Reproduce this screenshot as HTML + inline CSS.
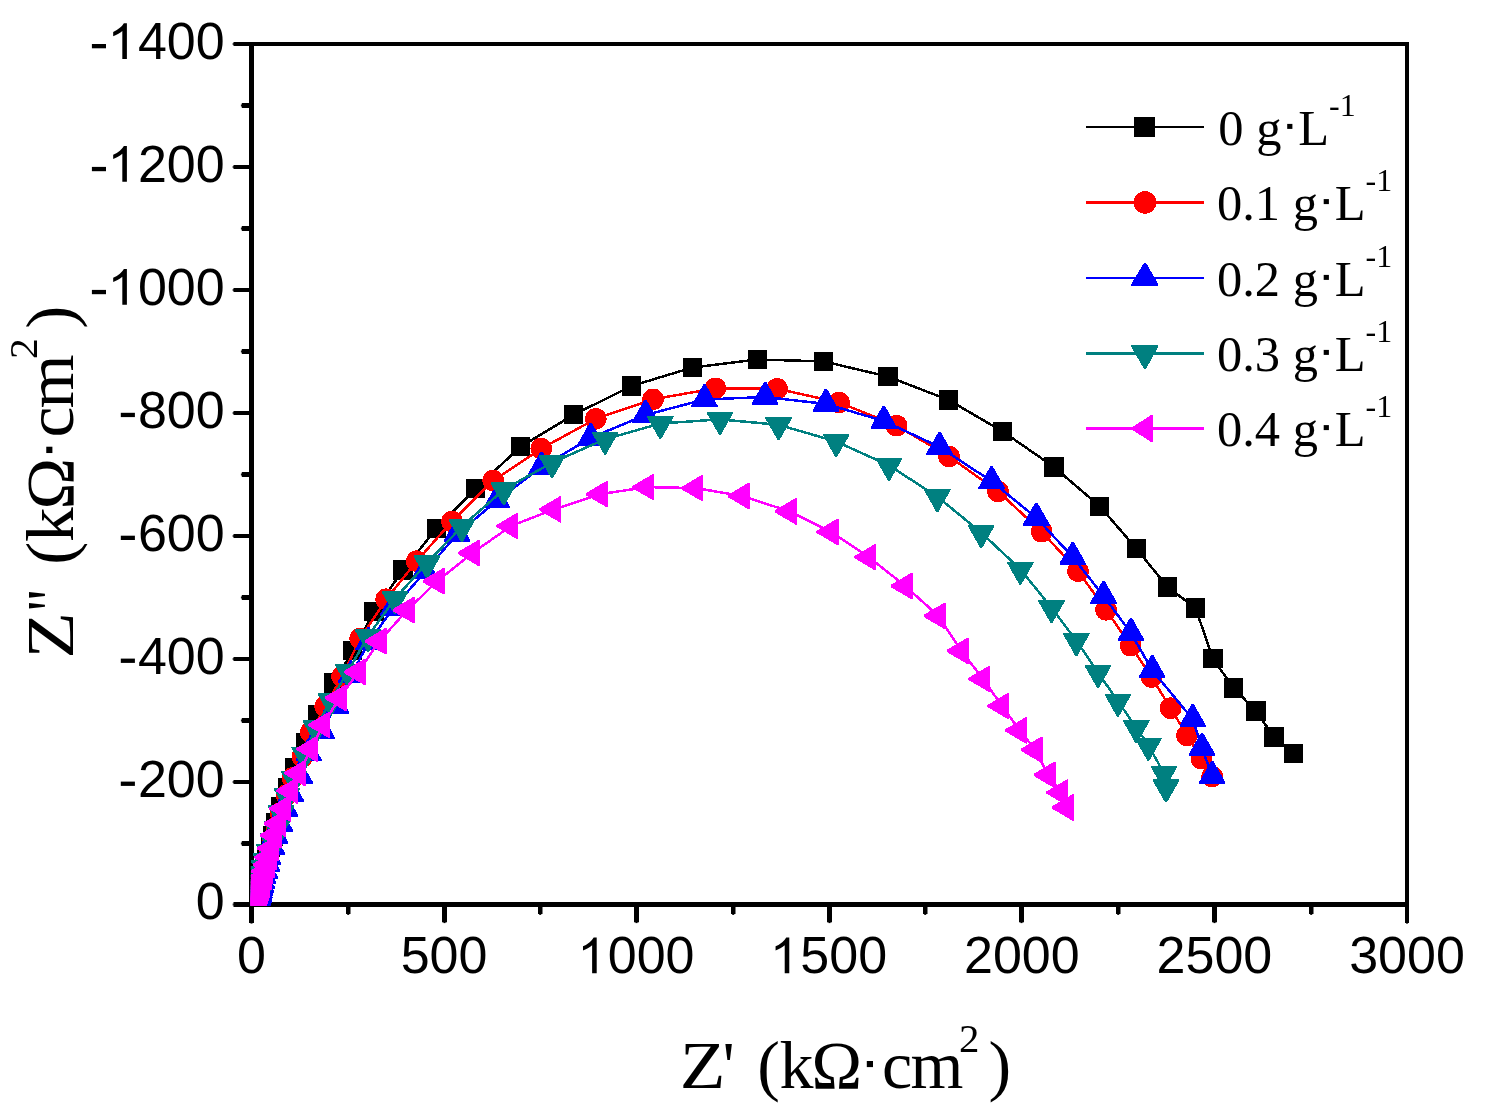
<!DOCTYPE html>
<html><head><meta charset="utf-8"><title>Nyquist plot</title>
<style>
html,body{margin:0;padding:0;background:#fff;}
body{width:1485px;height:1105px;overflow:hidden;font-family:"Liberation Sans",sans-serif;}
svg{display:block;will-change:transform;}
</style></head><body>
<svg width="1485" height="1105" viewBox="0 0 1485 1105">
<defs><clipPath id="pc"><rect x="250.8" y="40" width="1160" height="865.8"/></clipPath></defs>
<rect width="1485" height="1105" fill="#fff"/>
<g fill="#000">
<rect x="249" y="42" width="5" height="881" />
<rect x="1405" y="42" width="4" height="881" />
<rect x="233.5" y="42" width="1175.5" height="4" />
<rect x="233.5" y="902" width="1175.5" height="5" />
<rect x="232.7" y="43" width="1" height="2"/><rect x="232.7" y="903.5" width="1" height="2"/><rect x="250.5" y="922.8" width="2" height="0.8"/><rect x="1406" y="922.8" width="2" height="0.8"/>
<rect x="241.8" y="841" width="9" height="5"/><rect x="240.9" y="842.5" width="1" height="2"/>
<rect x="233.5" y="780" width="17" height="4"/><rect x="232.7" y="781" width="1" height="2"/>
<rect x="241.8" y="718" width="9" height="5"/><rect x="240.9" y="719.5" width="1" height="2"/>
<rect x="233.5" y="657" width="17" height="4"/><rect x="232.7" y="658" width="1" height="2"/>
<rect x="241.8" y="595" width="9" height="5"/><rect x="240.9" y="596.5" width="1" height="2"/>
<rect x="233.5" y="534" width="17" height="4"/><rect x="232.7" y="535" width="1" height="2"/>
<rect x="241.8" y="472" width="9" height="5"/><rect x="240.9" y="473.5" width="1" height="2"/>
<rect x="233.5" y="411" width="17" height="4"/><rect x="232.7" y="412" width="1" height="2"/>
<rect x="241.8" y="349" width="9" height="5"/><rect x="240.9" y="350.5" width="1" height="2"/>
<rect x="233.5" y="288" width="17" height="4"/><rect x="232.7" y="289" width="1" height="2"/>
<rect x="241.8" y="226" width="9" height="5"/><rect x="240.9" y="227.5" width="1" height="2"/>
<rect x="233.5" y="165" width="17" height="4"/><rect x="232.7" y="166" width="1" height="2"/>
<rect x="241.8" y="103" width="9" height="5"/><rect x="240.9" y="104.5" width="1" height="2"/>
<rect x="346" y="905" width="4.5" height="9"/><rect x="347.2" y="913.8" width="2" height="1.1"/>
<rect x="442" y="905" width="5" height="17.3"/><rect x="443.5" y="922" width="2" height="1.1"/>
<rect x="538" y="905" width="4.5" height="9"/><rect x="539.2" y="913.8" width="2" height="1.1"/>
<rect x="634" y="905" width="5" height="17.3"/><rect x="635.5" y="922" width="2" height="1.1"/>
<rect x="731" y="905" width="4.5" height="9"/><rect x="732.2" y="913.8" width="2" height="1.1"/>
<rect x="827" y="905" width="5" height="17.3"/><rect x="828.5" y="922" width="2" height="1.1"/>
<rect x="923" y="905" width="4.5" height="9"/><rect x="924.2" y="913.8" width="2" height="1.1"/>
<rect x="1019" y="905" width="5" height="17.3"/><rect x="1020.5" y="922" width="2" height="1.1"/>
<rect x="1116" y="905" width="4.5" height="9"/><rect x="1117.2" y="913.8" width="2" height="1.1"/>
<rect x="1212" y="905" width="5" height="17.3"/><rect x="1213.5" y="922" width="2" height="1.1"/>
<rect x="1309" y="905" width="4.5" height="9"/><rect x="1310.2" y="913.8" width="2" height="1.1"/>
</g>
<g font-family="Liberation Sans, sans-serif" font-size="52" fill="#000"><text x="195.78" y="919.4">0</text>
<text x="137.94" y="796.5">200</text>
<rect x="120.8" y="781.6" width="14.1" height="4.3"/>
<text x="137.94" y="673.5">400</text>
<rect x="120.8" y="658.6" width="14.1" height="4.3"/>
<text x="137.94" y="550.6">600</text>
<rect x="120.8" y="535.7" width="14.1" height="4.3"/>
<text x="137.94" y="427.7">800</text>
<rect x="120.8" y="412.8" width="14.1" height="4.3"/>
<path transform="translate(107.52,304.8) scale(0.02539,-0.02440)" d="M763 0H583V1147Q518 1085 412.5 1023T223 930V1104Q373 1174.5 485.5 1275T644 1466H763Z"/>
<text x="137.94" y="304.8">000</text>
<rect x="91.9" y="289.9" width="14.1" height="4.3"/>
<path transform="translate(107.52,181.8) scale(0.02539,-0.02440)" d="M763 0H583V1147Q518 1085 412.5 1023T223 930V1104Q373 1174.5 485.5 1275T644 1466H763Z"/>
<text x="137.94" y="181.8">200</text>
<rect x="91.9" y="166.9" width="14.1" height="4.3"/>
<path transform="translate(107.52,58.9) scale(0.02539,-0.02440)" d="M763 0H583V1147Q518 1085 412.5 1023T223 930V1104Q373 1174.5 485.5 1275T644 1466H763Z"/>
<text x="137.94" y="58.9">400</text>
<rect x="91.9" y="44.0" width="14.1" height="4.3"/>
<text x="237.04" y="973.3">0</text>
<text x="400.70" y="973.3">500</text>
<path transform="translate(577.33,973.3) scale(0.02539,-0.02440)" d="M763 0H583V1147Q518 1085 412.5 1023T223 930V1104Q373 1174.5 485.5 1275T644 1466H763Z"/>
<text x="607.75" y="973.3">000</text>
<path transform="translate(769.91,973.3) scale(0.02539,-0.02440)" d="M763 0H583V1147Q518 1085 412.5 1023T223 930V1104Q373 1174.5 485.5 1275T644 1466H763Z"/>
<text x="800.33" y="973.3">500</text>
<text x="963.99" y="973.3">2000</text>
<text x="1156.58" y="973.3">2500</text>
<text x="1349.16" y="973.3">3000</text></g>
<g clip-path="url(#pc)" shape-rendering="crispEdges">
<g fill="#000000" stroke="none">
<path d="M1293.6 753.5L1274.0 737.0L1255.9 711.0L1233.5 687.9L1212.9 658.7L1195.5 607.9L1167.4 587.0L1136.5 548.6L1099.8 506.4L1054.0 467.0L1002.7 431.5L948.7 400.0L887.9 376.6L823.6 361.4L757.6 359.5L692.5 367.5L631.8 385.9L573.6 414.8L520.7 446.6L475.6 488.4L436.6 528.5L403.0 570.0L374.0 611.8L352.8 650.7L333.8 683.0L317.9 714.8L305.8 743.0L294.8 767.8L287.8 787.7L280.8 806.7L275.8 823.0L273.0 836.0L270.2 847.4L266.8 858.4L264.8 865.8L263.2 872.0L261.8 877.2L260.6 881.5L259.6 885.2L258.8 888.3L258.1 890.9L257.5 893.1L257.1 894.9L256.7 896.4L256.3 897.7L256.0 898.8L255.8 899.7L255.6 900.5L255.4 901.1L255.3 901.7L255.1 902.1L255.0 902.5L254.9 902.8L254.9 903.1L254.8 903.3L254.8 903.5L254.7 903.7" fill="none" stroke="#000000" stroke-width="2.5" stroke-linejoin="round"/>
<rect x="1284.0" y="743.9" width="19.2" height="19.2"/>
<rect x="1264.4" y="727.4" width="19.2" height="19.2"/>
<rect x="1246.3" y="701.4" width="19.2" height="19.2"/>
<rect x="1223.9" y="678.3" width="19.2" height="19.2"/>
<rect x="1203.3" y="649.1" width="19.2" height="19.2"/>
<rect x="1185.9" y="598.3" width="19.2" height="19.2"/>
<rect x="1157.8" y="577.4" width="19.2" height="19.2"/>
<rect x="1126.9" y="539.0" width="19.2" height="19.2"/>
<rect x="1090.2" y="496.8" width="19.2" height="19.2"/>
<rect x="1044.4" y="457.4" width="19.2" height="19.2"/>
<rect x="993.1" y="421.9" width="19.2" height="19.2"/>
<rect x="939.1" y="390.4" width="19.2" height="19.2"/>
<rect x="878.3" y="367.0" width="19.2" height="19.2"/>
<rect x="814.0" y="351.8" width="19.2" height="19.2"/>
<rect x="748.0" y="349.9" width="19.2" height="19.2"/>
<rect x="682.9" y="357.9" width="19.2" height="19.2"/>
<rect x="622.2" y="376.3" width="19.2" height="19.2"/>
<rect x="564.0" y="405.2" width="19.2" height="19.2"/>
<rect x="511.1" y="437.0" width="19.2" height="19.2"/>
<rect x="466.0" y="478.8" width="19.2" height="19.2"/>
<rect x="427.0" y="518.9" width="19.2" height="19.2"/>
<rect x="393.4" y="560.4" width="19.2" height="19.2"/>
<rect x="364.4" y="602.2" width="19.2" height="19.2"/>
<rect x="343.2" y="641.1" width="19.2" height="19.2"/>
<rect x="324.2" y="673.4" width="19.2" height="19.2"/>
<rect x="308.3" y="705.2" width="19.2" height="19.2"/>
<rect x="296.2" y="733.4" width="19.2" height="19.2"/>
<rect x="285.2" y="758.2" width="19.2" height="19.2"/>
<rect x="278.2" y="778.1" width="19.2" height="19.2"/>
<rect x="271.2" y="797.1" width="19.2" height="19.2"/>
<rect x="266.2" y="813.4" width="19.2" height="19.2"/>
<rect x="263.4" y="826.4" width="19.2" height="19.2"/>
<rect x="260.6" y="837.8" width="19.2" height="19.2"/>
<rect x="257.2" y="848.8" width="19.2" height="19.2"/>
<rect x="255.2" y="856.2" width="19.2" height="19.2"/>
<rect x="253.6" y="862.4" width="19.2" height="19.2"/>
<rect x="252.2" y="867.6" width="19.2" height="19.2"/>
<rect x="251.0" y="871.9" width="19.2" height="19.2"/>
<rect x="250.0" y="875.6" width="19.2" height="19.2"/>
<rect x="249.2" y="878.7" width="19.2" height="19.2"/>
<rect x="248.5" y="881.3" width="19.2" height="19.2"/>
<rect x="247.9" y="883.5" width="19.2" height="19.2"/>
<rect x="247.5" y="885.3" width="19.2" height="19.2"/>
<rect x="247.1" y="886.8" width="19.2" height="19.2"/>
<rect x="246.7" y="888.1" width="19.2" height="19.2"/>
<rect x="246.4" y="889.2" width="19.2" height="19.2"/>
<rect x="246.2" y="890.1" width="19.2" height="19.2"/>
<rect x="246.0" y="890.9" width="19.2" height="19.2"/>
<rect x="245.8" y="891.5" width="19.2" height="19.2"/>
<rect x="245.7" y="892.1" width="19.2" height="19.2"/>
<rect x="245.5" y="892.5" width="19.2" height="19.2"/>
<rect x="245.4" y="892.9" width="19.2" height="19.2"/>
<rect x="245.3" y="893.2" width="19.2" height="19.2"/>
<rect x="245.3" y="893.5" width="19.2" height="19.2"/>
<rect x="245.2" y="893.7" width="19.2" height="19.2"/>
<rect x="245.2" y="893.9" width="19.2" height="19.2"/>
<rect x="245.1" y="894.1" width="19.2" height="19.2"/>
</g>
<g fill="#ff0000" stroke="none">
<path d="M1212.2 776.5L1201.3 758.7L1187.0 735.4L1170.6 708.2L1151.4 677.0L1130.6 645.6L1106.0 609.8L1078.0 571.2L1041.7 531.7L998.0 491.4L949.0 456.4L896.5 425.6L839.0 402.5L777.1 388.8L715.4 388.3L653.0 399.3L595.8 418.8L541.3 448.6L493.2 480.6L452.0 521.4L416.7 561.2L386.2 599.2L360.2 638.5L342.1 676.5L325.2 706.4L310.7 732.3L302.3 757.0L292.5 778.0L286.4 795.0L280.6 813.0L276.4 827.4L273.0 839.7L270.1 850.1L267.7 858.8L265.7 866.1L264.0 872.2L262.5 877.4L261.3 881.7L260.3 885.4L259.5 888.4L258.7 891.0L258.1 893.2L257.6 895.0L257.2 896.5L256.9 897.8L256.6 898.9L256.3 899.8L256.1 900.5L255.9 901.2L255.8 901.7L255.7 902.1L255.6 902.5L255.5 902.8L255.4 903.1L255.3 903.3L255.3 903.5L255.2 903.7" fill="none" stroke="#ff0000" stroke-width="2.5" stroke-linejoin="round"/>
<circle cx="1212.2" cy="776.5" r="10.8"/>
<circle cx="1201.3" cy="758.7" r="10.8"/>
<circle cx="1187.0" cy="735.4" r="10.8"/>
<circle cx="1170.6" cy="708.2" r="10.8"/>
<circle cx="1151.4" cy="677.0" r="10.8"/>
<circle cx="1130.6" cy="645.6" r="10.8"/>
<circle cx="1106.0" cy="609.8" r="10.8"/>
<circle cx="1078.0" cy="571.2" r="10.8"/>
<circle cx="1041.7" cy="531.7" r="10.8"/>
<circle cx="998.0" cy="491.4" r="10.8"/>
<circle cx="949.0" cy="456.4" r="10.8"/>
<circle cx="896.5" cy="425.6" r="10.8"/>
<circle cx="839.0" cy="402.5" r="10.8"/>
<circle cx="777.1" cy="388.8" r="10.8"/>
<circle cx="715.4" cy="388.3" r="10.8"/>
<circle cx="653.0" cy="399.3" r="10.8"/>
<circle cx="595.8" cy="418.8" r="10.8"/>
<circle cx="541.3" cy="448.6" r="10.8"/>
<circle cx="493.2" cy="480.6" r="10.8"/>
<circle cx="452.0" cy="521.4" r="10.8"/>
<circle cx="416.7" cy="561.2" r="10.8"/>
<circle cx="386.2" cy="599.2" r="10.8"/>
<circle cx="360.2" cy="638.5" r="10.8"/>
<circle cx="342.1" cy="676.5" r="10.8"/>
<circle cx="325.2" cy="706.4" r="10.8"/>
<circle cx="310.7" cy="732.3" r="10.8"/>
<circle cx="302.3" cy="757.0" r="10.8"/>
<circle cx="292.5" cy="778.0" r="10.8"/>
<circle cx="286.4" cy="795.0" r="10.8"/>
<circle cx="280.6" cy="813.0" r="10.8"/>
<circle cx="276.4" cy="827.4" r="10.8"/>
<circle cx="273.0" cy="839.7" r="10.8"/>
<circle cx="270.1" cy="850.1" r="10.8"/>
<circle cx="267.7" cy="858.8" r="10.8"/>
<circle cx="265.7" cy="866.1" r="10.8"/>
<circle cx="264.0" cy="872.2" r="10.8"/>
<circle cx="262.5" cy="877.4" r="10.8"/>
<circle cx="261.3" cy="881.7" r="10.8"/>
<circle cx="260.3" cy="885.4" r="10.8"/>
<circle cx="259.5" cy="888.4" r="10.8"/>
<circle cx="258.7" cy="891.0" r="10.8"/>
<circle cx="258.1" cy="893.2" r="10.8"/>
<circle cx="257.6" cy="895.0" r="10.8"/>
<circle cx="257.2" cy="896.5" r="10.8"/>
<circle cx="256.9" cy="897.8" r="10.8"/>
<circle cx="256.6" cy="898.9" r="10.8"/>
<circle cx="256.3" cy="899.8" r="10.8"/>
<circle cx="256.1" cy="900.5" r="10.8"/>
<circle cx="255.9" cy="901.2" r="10.8"/>
<circle cx="255.8" cy="901.7" r="10.8"/>
<circle cx="255.7" cy="902.1" r="10.8"/>
<circle cx="255.6" cy="902.5" r="10.8"/>
<circle cx="255.5" cy="902.8" r="10.8"/>
<circle cx="255.4" cy="903.1" r="10.8"/>
<circle cx="255.3" cy="903.3" r="10.8"/>
<circle cx="255.3" cy="903.5" r="10.8"/>
<circle cx="255.2" cy="903.7" r="10.8"/>
</g>
<g fill="#0000ff" stroke="none">
<path d="M1212.2 776.1L1202.0 748.0L1192.7 719.2L1152.2 670.2L1131.0 633.1L1103.6 596.0L1072.7 557.0L1036.3 517.8L991.6 481.3L939.6 447.0L883.8 421.0L825.9 403.9L765.1 397.0L704.5 399.5L645.4 415.0L590.7 437.9L541.5 467.0L497.0 500.6L457.2 534.0L425.0 571.7L393.0 608.5L368.5 642.6L351.0 675.5L335.8 705.8L321.7 731.0L308.7 753.6L299.8 776.0L290.8 794.0L285.0 808.8L279.9 823.9L275.2 836.2L271.9 846.9L268.2 856.9L267.0 864.0L264.9 871.0L263.0 876.2L261.8 881.1L260.9 885.0L260.1 888.1L259.5 890.7L258.9 892.9L258.4 894.8L258.0 896.3L257.7 897.6L257.4 898.7L257.2 899.7L257.0 900.4L256.9 901.1L256.7 901.6L256.6 902.1L256.5 902.5L256.4 902.8L256.4 903.1L256.3 903.3L256.3 903.5L256.2 903.7" fill="none" stroke="#0000ff" stroke-width="2.5" stroke-linejoin="round"/>
<path d="M1211.2 760.8h2L1225.4 782.3v1.5H1199.0v-1.5Z"/>
<path d="M1201.0 732.7h2L1215.2 754.2v1.5H1188.8v-1.5Z"/>
<path d="M1191.7 703.9h2L1205.9 725.4v1.5H1179.5v-1.5Z"/>
<path d="M1151.2 654.9h2L1165.4 676.4v1.5H1139.0v-1.5Z"/>
<path d="M1130.0 617.8h2L1144.2 639.3v1.5H1117.8v-1.5Z"/>
<path d="M1102.6 580.7h2L1116.8 602.2v1.5H1090.4v-1.5Z"/>
<path d="M1071.7 541.7h2L1085.9 563.2v1.5H1059.5v-1.5Z"/>
<path d="M1035.3 502.5h2L1049.5 524.0v1.5H1023.1v-1.5Z"/>
<path d="M990.6 466.0h2L1004.8 487.5v1.5H978.4v-1.5Z"/>
<path d="M938.6 431.7h2L952.8 453.2v1.5H926.4v-1.5Z"/>
<path d="M882.8 405.7h2L897.0 427.2v1.5H870.6v-1.5Z"/>
<path d="M824.9 388.6h2L839.1 410.1v1.5H812.7v-1.5Z"/>
<path d="M764.1 381.7h2L778.3 403.2v1.5H751.9v-1.5Z"/>
<path d="M703.5 384.2h2L717.7 405.7v1.5H691.3v-1.5Z"/>
<path d="M644.4 399.7h2L658.6 421.2v1.5H632.2v-1.5Z"/>
<path d="M589.7 422.6h2L603.9 444.1v1.5H577.5v-1.5Z"/>
<path d="M540.5 451.7h2L554.7 473.2v1.5H528.3v-1.5Z"/>
<path d="M496.0 485.3h2L510.2 506.8v1.5H483.8v-1.5Z"/>
<path d="M456.2 518.7h2L470.4 540.2v1.5H444.0v-1.5Z"/>
<path d="M424.0 556.4h2L438.2 577.9v1.5H411.8v-1.5Z"/>
<path d="M392.0 593.2h2L406.2 614.7v1.5H379.8v-1.5Z"/>
<path d="M367.5 627.3h2L381.7 648.8v1.5H355.3v-1.5Z"/>
<path d="M350.0 660.2h2L364.2 681.7v1.5H337.8v-1.5Z"/>
<path d="M334.8 690.5h2L349.0 712.0v1.5H322.6v-1.5Z"/>
<path d="M320.7 715.7h2L334.9 737.2v1.5H308.5v-1.5Z"/>
<path d="M307.7 738.3h2L321.9 759.8v1.5H295.5v-1.5Z"/>
<path d="M298.8 760.7h2L313.0 782.2v1.5H286.6v-1.5Z"/>
<path d="M289.8 778.7h2L304.0 800.2v1.5H277.6v-1.5Z"/>
<path d="M284.0 793.5h2L298.2 815.0v1.5H271.8v-1.5Z"/>
<path d="M278.9 808.6h2L293.1 830.1v1.5H266.7v-1.5Z"/>
<path d="M274.2 820.9h2L288.4 842.4v1.5H262.0v-1.5Z"/>
<path d="M270.9 831.6h2L285.1 853.1v1.5H258.7v-1.5Z"/>
<path d="M267.2 841.6h2L281.4 863.1v1.5H255.0v-1.5Z"/>
<path d="M266.0 848.7h2L280.2 870.2v1.5H253.8v-1.5Z"/>
<path d="M263.9 855.7h2L278.1 877.2v1.5H251.7v-1.5Z"/>
<path d="M262.0 860.9h2L276.2 882.4v1.5H249.8v-1.5Z"/>
<path d="M260.8 865.8h2L275.0 887.3v1.5H248.6v-1.5Z"/>
<path d="M259.9 869.7h2L274.1 891.2v1.5H247.7v-1.5Z"/>
<path d="M259.1 872.8h2L273.3 894.3v1.5H246.9v-1.5Z"/>
<path d="M258.5 875.4h2L272.7 896.9v1.5H246.3v-1.5Z"/>
<path d="M257.9 877.6h2L272.1 899.1v1.5H245.7v-1.5Z"/>
<path d="M257.4 879.5h2L271.6 901.0v1.5H245.2v-1.5Z"/>
<path d="M257.0 881.0h2L271.2 902.5v1.5H244.8v-1.5Z"/>
<path d="M256.7 882.3h2L270.9 903.8v1.5H244.5v-1.5Z"/>
<path d="M256.4 883.4h2L270.6 904.9v1.5H244.2v-1.5Z"/>
<path d="M256.2 884.3h2L270.4 905.8v1.5H244.0v-1.5Z"/>
<path d="M256.0 885.1h2L270.2 906.6v1.5H243.8v-1.5Z"/>
<path d="M255.9 885.8h2L270.1 907.3v1.5H243.7v-1.5Z"/>
<path d="M255.7 886.3h2L269.9 907.8v1.5H243.5v-1.5Z"/>
<path d="M255.6 886.8h2L269.8 908.3v1.5H243.4v-1.5Z"/>
<path d="M255.5 887.1h2L269.7 908.6v1.5H243.3v-1.5Z"/>
<path d="M255.4 887.5h2L269.6 909.0v1.5H243.2v-1.5Z"/>
<path d="M255.4 887.7h2L269.6 909.2v1.5H243.2v-1.5Z"/>
<path d="M255.3 888.0h2L269.5 909.5v1.5H243.1v-1.5Z"/>
<path d="M255.3 888.2h2L269.5 909.7v1.5H243.1v-1.5Z"/>
<path d="M255.2 888.3h2L269.4 909.8v1.5H243.0v-1.5Z"/>
</g>
<g fill="#008080" stroke="none">
<path d="M1166.0 787.0L1164.0 773.3L1148.4 745.4L1136.3 727.6L1117.9 701.2L1098.0 672.5L1076.3 640.6L1051.5 607.7L1020.3 569.2L981.2 532.6L937.3 496.6L888.9 465.4L836.2 441.5L778.6 424.8L719.9 419.4L660.3 423.5L605.1 439.2L552.0 462.7L503.8 489.6L461.8 526.6L427.0 563.0L395.0 598.6L367.9 636.3L348.0 671.4L330.8 700.3L316.0 728.0L304.6 754.2L294.0 778.3L287.0 795.5L281.2 813.0L276.8 828.3L272.7 840.5L269.4 851.5L265.7 860.7L264.1 867.7L262.7 873.6L261.5 878.5L260.6 882.7L259.8 886.2L259.1 889.1L258.5 891.6L258.0 893.6L257.6 895.4L257.3 896.8L257.0 898.1L256.8 899.1L256.6 900.0L256.4 900.7L256.2 901.3L256.1 901.8L256.0 902.2L255.9 902.6L255.9 902.9L255.8 903.2L255.8 903.4L255.7 903.6L255.7 903.7" fill="none" stroke="#008080" stroke-width="2.5" stroke-linejoin="round"/>
<path d="M1165.0 802.3h2L1179.2 780.8v-1.5H1152.8v1.5Z"/>
<path d="M1163.0 788.6h2L1177.2 767.1v-1.5H1150.8v1.5Z"/>
<path d="M1147.4 760.7h2L1161.6 739.2v-1.5H1135.2v1.5Z"/>
<path d="M1135.3 742.9h2L1149.5 721.4v-1.5H1123.1v1.5Z"/>
<path d="M1116.9 716.5h2L1131.1 695.0v-1.5H1104.7v1.5Z"/>
<path d="M1097.0 687.8h2L1111.2 666.3v-1.5H1084.8v1.5Z"/>
<path d="M1075.3 655.9h2L1089.5 634.4v-1.5H1063.1v1.5Z"/>
<path d="M1050.5 623.0h2L1064.7 601.5v-1.5H1038.3v1.5Z"/>
<path d="M1019.3 584.5h2L1033.5 563.0v-1.5H1007.1v1.5Z"/>
<path d="M980.2 547.9h2L994.4 526.4v-1.5H968.0v1.5Z"/>
<path d="M936.3 511.9h2L950.5 490.4v-1.5H924.1v1.5Z"/>
<path d="M887.9 480.7h2L902.1 459.2v-1.5H875.7v1.5Z"/>
<path d="M835.2 456.8h2L849.4 435.3v-1.5H823.0v1.5Z"/>
<path d="M777.6 440.1h2L791.8 418.6v-1.5H765.4v1.5Z"/>
<path d="M718.9 434.7h2L733.1 413.2v-1.5H706.7v1.5Z"/>
<path d="M659.3 438.8h2L673.5 417.3v-1.5H647.1v1.5Z"/>
<path d="M604.1 454.5h2L618.3 433.0v-1.5H591.9v1.5Z"/>
<path d="M551.0 478.0h2L565.2 456.5v-1.5H538.8v1.5Z"/>
<path d="M502.8 504.9h2L517.0 483.4v-1.5H490.6v1.5Z"/>
<path d="M460.8 541.9h2L475.0 520.4v-1.5H448.6v1.5Z"/>
<path d="M426.0 578.3h2L440.2 556.8v-1.5H413.8v1.5Z"/>
<path d="M394.0 613.9h2L408.2 592.4v-1.5H381.8v1.5Z"/>
<path d="M366.9 651.6h2L381.1 630.1v-1.5H354.7v1.5Z"/>
<path d="M347.0 686.7h2L361.2 665.2v-1.5H334.8v1.5Z"/>
<path d="M329.8 715.6h2L344.0 694.1v-1.5H317.6v1.5Z"/>
<path d="M315.0 743.3h2L329.2 721.8v-1.5H302.8v1.5Z"/>
<path d="M303.6 769.5h2L317.8 748.0v-1.5H291.4v1.5Z"/>
<path d="M293.0 793.6h2L307.2 772.1v-1.5H280.8v1.5Z"/>
<path d="M286.0 810.8h2L300.2 789.3v-1.5H273.8v1.5Z"/>
<path d="M280.2 828.3h2L294.4 806.8v-1.5H268.0v1.5Z"/>
<path d="M275.8 843.6h2L290.0 822.1v-1.5H263.6v1.5Z"/>
<path d="M271.7 855.8h2L285.9 834.3v-1.5H259.5v1.5Z"/>
<path d="M268.4 866.8h2L282.6 845.3v-1.5H256.2v1.5Z"/>
<path d="M264.7 876.0h2L278.9 854.5v-1.5H252.5v1.5Z"/>
<path d="M263.1 883.0h2L277.3 861.5v-1.5H250.9v1.5Z"/>
<path d="M261.7 888.9h2L275.9 867.4v-1.5H249.5v1.5Z"/>
<path d="M260.5 893.9h2L274.7 872.4v-1.5H248.3v1.5Z"/>
<path d="M259.6 898.0h2L273.8 876.5v-1.5H247.4v1.5Z"/>
<path d="M258.8 901.5h2L273.0 880.0v-1.5H246.6v1.5Z"/>
<path d="M258.1 904.4h2L272.3 882.9v-1.5H245.9v1.5Z"/>
<path d="M257.5 906.9h2L271.7 885.4v-1.5H245.3v1.5Z"/>
<path d="M257.0 909.0h2L271.2 887.5v-1.5H244.8v1.5Z"/>
<path d="M256.6 910.7h2L270.8 889.2v-1.5H244.4v1.5Z"/>
<path d="M256.3 912.2h2L270.5 890.7v-1.5H244.1v1.5Z"/>
<path d="M256.0 913.4h2L270.2 891.9v-1.5H243.8v1.5Z"/>
<path d="M255.8 914.4h2L270.0 892.9v-1.5H243.6v1.5Z"/>
<path d="M255.6 915.3h2L269.8 893.8v-1.5H243.4v1.5Z"/>
<path d="M255.4 916.0h2L269.6 894.5v-1.5H243.2v1.5Z"/>
<path d="M255.2 916.6h2L269.4 895.1v-1.5H243.0v1.5Z"/>
<path d="M255.1 917.1h2L269.3 895.6v-1.5H242.9v1.5Z"/>
<path d="M255.0 917.6h2L269.2 896.1v-1.5H242.8v1.5Z"/>
<path d="M254.9 917.9h2L269.1 896.4v-1.5H242.7v1.5Z"/>
<path d="M254.9 918.2h2L269.1 896.7v-1.5H242.7v1.5Z"/>
<path d="M254.8 918.5h2L269.0 897.0v-1.5H242.6v1.5Z"/>
<path d="M254.8 918.7h2L269.0 897.2v-1.5H242.6v1.5Z"/>
<path d="M254.7 918.9h2L268.9 897.4v-1.5H242.5v1.5Z"/>
<path d="M254.7 919.0h2L268.9 897.5v-1.5H242.5v1.5Z"/>
</g>
<g fill="#ff00ff" stroke="none">
<path d="M1066.4 807.5L1060.9 792.5L1048.2 774.9L1035.4 749.8L1019.7 730.4L1002.0 706.0L983.0 678.9L961.3 650.9L938.3 615.9L905.2 586.0L869.0 557.2L831.1 531.9L789.5 511.4L742.3 496.0L695.8 488.1L646.9 487.1L600.5 494.1L554.0 509.3L511.0 526.0L472.5 553.0L437.2 581.2L407.3 610.1L379.2 641.3L358.4 672.0L339.4 697.9L322.9 725.0L311.0 749.0L299.0 773.2L291.0 790.7L284.0 808.4L278.5 823.5L274.7 835.3L271.5 848.3L269.2 857.3L267.2 864.8L265.6 871.2L264.2 876.5L263.1 881.0L262.1 884.8L261.3 887.9L260.6 890.6L260.0 892.8L259.5 894.7L259.1 896.2L258.8 897.6L258.5 898.7L258.3 899.6L258.1 900.4L257.9 901.0L257.7 901.6L257.6 902.1L257.5 902.5L257.4 902.8L257.4 903.1L257.3 903.3L257.3 903.5L257.2 903.6L257.2 903.8" fill="none" stroke="#ff00ff" stroke-width="2.5" stroke-linejoin="round"/>
<path d="M1051.7 806.5v2L1072.3 820.6h1.5V794.4h-1.5Z"/>
<path d="M1046.2 791.5v2L1066.8 805.6h1.5V779.4h-1.5Z"/>
<path d="M1033.5 773.9v2L1054.1 788.0h1.5V761.8h-1.5Z"/>
<path d="M1020.7 748.8v2L1041.3 762.9h1.5V736.6h-1.5Z"/>
<path d="M1005.0 729.4v2L1025.6 743.5h1.5V717.2h-1.5Z"/>
<path d="M987.3 705.0v2L1007.9 719.1h1.5V692.9h-1.5Z"/>
<path d="M968.3 677.9v2L988.9 692.0h1.5V665.8h-1.5Z"/>
<path d="M946.6 649.9v2L967.2 664.0h1.5V637.8h-1.5Z"/>
<path d="M923.6 614.9v2L944.2 629.0h1.5V602.8h-1.5Z"/>
<path d="M890.5 585.0v2L911.1 599.1h1.5V572.9h-1.5Z"/>
<path d="M854.3 556.2v2L874.9 570.4h1.5V544.1h-1.5Z"/>
<path d="M816.4 530.9v2L837.0 545.0h1.5V518.8h-1.5Z"/>
<path d="M774.8 510.4v2L795.4 524.5h1.5V498.2h-1.5Z"/>
<path d="M727.6 495.0v2L748.2 509.1h1.5V482.9h-1.5Z"/>
<path d="M681.1 487.1v2L701.7 501.2h1.5V475.0h-1.5Z"/>
<path d="M632.2 486.1v2L652.8 500.2h1.5V474.0h-1.5Z"/>
<path d="M585.8 493.1v2L606.4 507.2h1.5V481.0h-1.5Z"/>
<path d="M539.3 508.3v2L559.9 522.5h1.5V496.2h-1.5Z"/>
<path d="M496.3 525.0v2L516.9 539.1h1.5V512.9h-1.5Z"/>
<path d="M457.8 552.0v2L478.4 566.1h1.5V539.9h-1.5Z"/>
<path d="M422.5 580.2v2L443.1 594.4h1.5V568.1h-1.5Z"/>
<path d="M392.6 609.1v2L413.2 623.2h1.5V597.0h-1.5Z"/>
<path d="M364.5 640.3v2L385.1 654.4h1.5V628.1h-1.5Z"/>
<path d="M343.7 671.0v2L364.3 685.1h1.5V658.9h-1.5Z"/>
<path d="M324.7 696.9v2L345.3 711.0h1.5V684.8h-1.5Z"/>
<path d="M308.2 724.0v2L328.8 738.1h1.5V711.9h-1.5Z"/>
<path d="M296.3 748.0v2L316.9 762.1h1.5V735.9h-1.5Z"/>
<path d="M284.3 772.2v2L304.9 786.4h1.5V760.1h-1.5Z"/>
<path d="M276.3 789.7v2L296.9 803.9h1.5V777.6h-1.5Z"/>
<path d="M269.3 807.4v2L289.9 821.5h1.5V795.2h-1.5Z"/>
<path d="M263.8 822.5v2L284.4 836.6h1.5V810.4h-1.5Z"/>
<path d="M260.0 834.3v2L280.6 848.4h1.5V822.1h-1.5Z"/>
<path d="M256.8 847.3v2L277.4 861.4h1.5V835.1h-1.5Z"/>
<path d="M254.4 856.3v2L275.0 870.4h1.5V844.1h-1.5Z"/>
<path d="M252.5 863.8v2L273.1 878.0h1.5V851.7h-1.5Z"/>
<path d="M250.9 870.2v2L271.5 884.3h1.5V858.0h-1.5Z"/>
<path d="M249.5 875.5v2L270.1 889.7h1.5V863.4h-1.5Z"/>
<path d="M248.3 880.0v2L268.9 894.1h1.5V867.8h-1.5Z"/>
<path d="M247.4 883.8v2L268.0 897.9h1.5V871.6h-1.5Z"/>
<path d="M246.5 886.9v2L267.1 901.1h1.5V874.8h-1.5Z"/>
<path d="M245.9 889.6v2L266.5 903.7h1.5V877.4h-1.5Z"/>
<path d="M245.3 891.8v2L265.9 905.9h1.5V879.6h-1.5Z"/>
<path d="M244.8 893.7v2L265.4 907.8h1.5V881.5h-1.5Z"/>
<path d="M244.4 895.2v2L265.0 909.4h1.5V883.1h-1.5Z"/>
<path d="M244.1 896.6v2L264.7 910.7h1.5V884.4h-1.5Z"/>
<path d="M243.8 897.7v2L264.4 911.8h1.5V885.5h-1.5Z"/>
<path d="M243.5 898.6v2L264.1 912.8h1.5V886.5h-1.5Z"/>
<path d="M243.3 899.4v2L263.9 913.5h1.5V887.2h-1.5Z"/>
<path d="M243.2 900.0v2L263.8 914.2h1.5V887.9h-1.5Z"/>
<path d="M243.0 900.6v2L263.6 914.7h1.5V888.4h-1.5Z"/>
<path d="M242.9 901.1v2L263.5 915.2h1.5V888.9h-1.5Z"/>
<path d="M242.8 901.5v2L263.4 915.6h1.5V889.3h-1.5Z"/>
<path d="M242.7 901.8v2L263.3 915.9h1.5V889.6h-1.5Z"/>
<path d="M242.6 902.1v2L263.2 916.2h1.5V889.9h-1.5Z"/>
<path d="M242.6 902.3v2L263.2 916.4h1.5V890.1h-1.5Z"/>
<path d="M242.5 902.5v2L263.1 916.6h1.5V890.3h-1.5Z"/>
<path d="M242.5 902.6v2L263.1 916.8h1.5V890.5h-1.5Z"/>
<path d="M242.5 902.8v2L263.1 916.9h1.5V890.6h-1.5Z"/>
</g>
</g>
<g fill="#000000" shape-rendering="crispEdges"><rect x="1086" y="126.0" width="118" height="2"/>
<rect x="1134.0" y="117.0" width="21" height="20"/>
</g>
<text x="1218.3" y="144.85" font-family="Liberation Serif, serif" font-size="50.5" fill="#000">0 g<tspan dx="16.8">L</tspan><tspan font-size="32" dy="-28.8">-1</tspan></text>
<rect x="1287.2" y="123.9" width="5.2" height="5"/>
<g fill="#ff0000" shape-rendering="crispEdges"><rect x="1086" y="201.0" width="118" height="3"/>
<circle cx="1145.0" cy="202.4" r="11.3"/>
</g>
<text x="1216.9" y="220" font-family="Liberation Serif, serif" font-size="50.5" fill="#000">0.1 g<tspan dx="16.8">L</tspan><tspan font-size="32" dy="-28.8">-1</tspan></text>
<rect x="1323.7" y="199.1" width="5.2" height="5"/>
<g fill="#0000ff" shape-rendering="crispEdges"><rect x="1086" y="277.0" width="118" height="2"/>
<path d="M1144 262.8h2L1158.3 284.2v1.7H1131.8l-1-1Z"/>
</g>
<text x="1216.9" y="295.8" font-family="Liberation Serif, serif" font-size="50.5" fill="#000">0.2 g<tspan dx="16.8">L</tspan><tspan font-size="32" dy="-28.8">-1</tspan></text>
<rect x="1323.7" y="274.9" width="5.2" height="5"/>
<g fill="#008080" shape-rendering="crispEdges"><rect x="1086" y="352.0" width="118" height="3"/>
<path d="M1144 369.0h2L1158.3 346.8v-1.7H1131.8l-1 1Z"/>
</g>
<text x="1216.9" y="370.8" font-family="Liberation Serif, serif" font-size="50.5" fill="#000">0.3 g<tspan dx="16.8">L</tspan><tspan font-size="32" dy="-28.8">-1</tspan></text>
<rect x="1323.7" y="349.9" width="5.2" height="5"/>
<g fill="#ff00ff" shape-rendering="crispEdges"><rect x="1086" y="427.0" width="118" height="3"/>
<path d="M1131.7 427.5v2L1151.2 442.1h1.7V414.9h-1.7Z"/>
</g>
<text x="1216.9" y="446" font-family="Liberation Serif, serif" font-size="50.5" fill="#000">0.4 g<tspan dx="16.8">L</tspan><tspan font-size="32" dy="-28.8">-1</tspan></text>
<rect x="1323.7" y="425.1" width="5.2" height="5"/>
<g font-family="Liberation Serif, serif" font-size="68" fill="#000" transform="translate(683.3,1087.9)"><text transform="translate(0,0) scale(1.1,1)" x="-3.25" y="0">Z</text>
<text x="39.14" y="0">'</text>
<text x="73.90" y="0">(</text>
<text x="96.30" y="0">k</text>
<text x="128.10" y="0">Ω</text>
<rect x="183.50" y="-26.9" width="6.2" height="6.1"/>
<text x="198.70" y="0">c</text>
<text x="227.20" y="0">m</text>
<text x="275.80" y="-36.1" font-size="40.8">2</text>
<text x="305.30" y="0">)</text></g>
<g font-family="Liberation Serif, serif" font-size="68" fill="#000" transform="translate(73.3,655) rotate(-90) scale(1.02,1.005)"><text transform="translate(0,0) scale(1.1,1)" x="-3.25" y="0">Z</text>
<text x="42.10" y="0" textLength="23" lengthAdjust="spacingAndGlyphs">"</text>
<text x="88.40" y="0">(</text>
<text x="110.80" y="0">k</text>
<text x="142.60" y="0">Ω</text>
<rect x="198.00" y="-26.9" width="6.2" height="6.1"/>
<text x="213.20" y="0">c</text>
<text x="241.70" y="0">m</text>
<text x="290.30" y="-36.1" font-size="40.8">2</text>
<text x="319.80" y="0">)</text></g>
</svg>
</body></html>
